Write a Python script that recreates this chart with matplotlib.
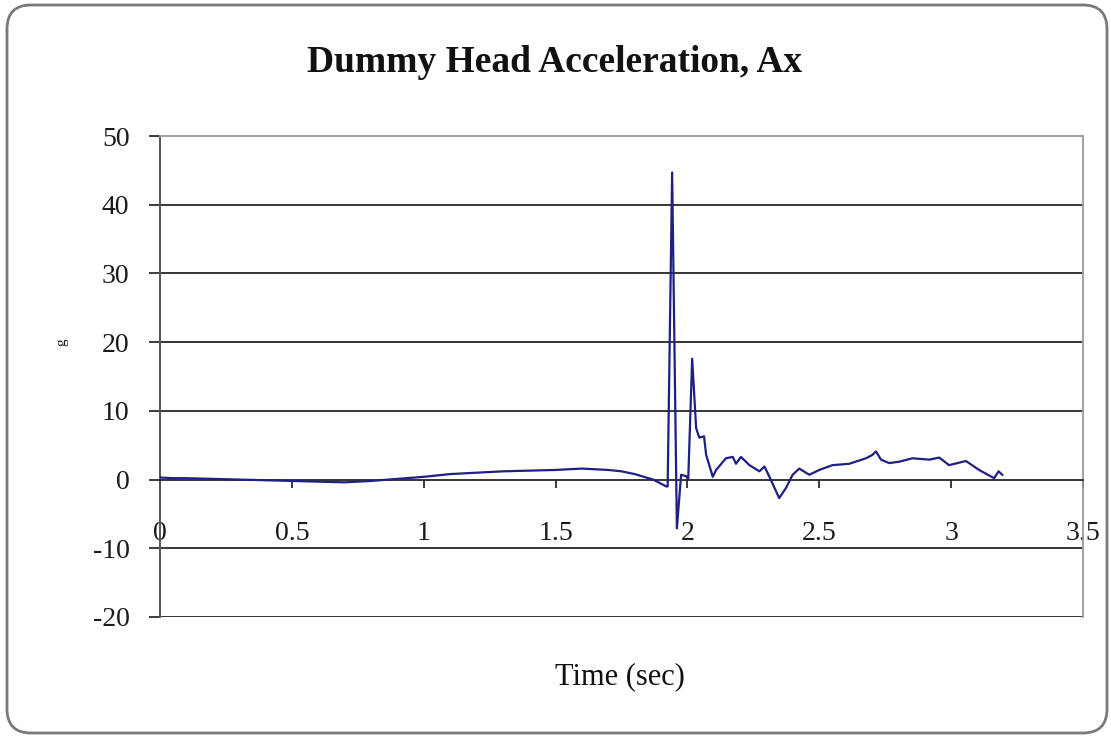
import matplotlib
matplotlib.use("Agg")
import matplotlib.pyplot as plt
from matplotlib.patches import FancyBboxPatch
from matplotlib.transforms import IdentityTransform

# Data
time_s = [0.00, 0.05, 0.10, 0.20, 0.30, 0.40, 0.50, 0.60, 0.70, 0.80, 0.90, 1.00,
          1.10, 1.20, 1.30, 1.40, 1.50, 1.60, 1.70, 1.75, 1.80, 1.87, 1.92, 1.925,
          1.942, 1.96, 1.976, 1.995, 2.003, 2.018, 2.033, 2.045, 2.063, 2.071, 2.096,
          2.109, 2.146, 2.172, 2.184, 2.203, 2.235, 2.273, 2.292, 2.311, 2.348, 2.374,
          2.399, 2.424, 2.462, 2.50, 2.55, 2.614, 2.677, 2.702, 2.715, 2.734, 2.765,
          2.803, 2.853, 2.917, 2.955, 2.992, 3.056, 3.106, 3.163, 3.18, 3.194]
accel_g = [0.3, 0.2, 0.2, 0.1, 0.0, -0.1, -0.2, -0.3, -0.4, -0.2, 0.1, 0.4,
           0.8, 1.0, 1.2, 1.3, 1.4, 1.6, 1.4, 1.2, 0.8, 0.0, -1.0, -1.0,
           44.7, -7.1, 0.7, 0.5, 0.0, 17.6, 7.5, 6.1, 6.3, 3.6, 0.4,
           1.4, 3.1, 3.3, 2.3, 3.3, 2.1, 1.2, 1.9, 0.4, -2.7, -1.2,
           0.7, 1.6, 0.7, 1.4, 2.1, 2.3, 3.1, 3.6, 4.1, 2.9, 2.4,
           2.6, 3.1, 2.9, 3.2, 2.1, 2.7, 1.4, 0.2, 1.2, 0.7]

title = "Dummy Head Acceleration, Ax"
x_label = "Time (sec)"
y_label = "g"
x_ticks = [0, 0.5, 1, 1.5, 2, 2.5, 3, 3.5]
x_tick_labels = ["0", "0.5", "1", "1.5", "2", "2.5", "3", "3.5"]
y_ticks = [-20, -10, 0, 10, 20, 30, 40, 50]
y_tick_labels = ["-20", "-10", "0", "10", "20", "30", "40", "50"]

plt.rcParams['font.family'] = ['Liberation Serif', 'DejaVu Serif']

W, H = 1111, 736
fig = plt.figure(figsize=(W / 100, H / 100), dpi=100)

# Rounded outer border (pixel coordinates, origin bottom-left)
border = FancyBboxPatch((7, 3), 1100, 728,
                        boxstyle="round,pad=0,rounding_size=24",
                        transform=IdentityTransform(), facecolor="none",
                        edgecolor="#7a7a7a", linewidth=2.0, clip_on=False)
fig.patches.append(border)

top_px, bot_px, left_px, right_px = 136, 617, 160, 1083
ax = fig.add_axes([left_px / W, 1 - bot_px / H,
                   (right_px - left_px) / W, (bot_px - top_px) / H])
ax.set_xlim(0, 3.5)
ax.set_ylim(-20, 50)

for y in y_ticks:
    if y not in (0, 50):
        ax.axhline(y, color="#262626", linewidth=1.3, zorder=1)

ax.plot(time_s, accel_g, color="#1f1f85", linewidth=1.6, zorder=3)

for s in ("top", "right"):
    ax.spines[s].set_color("#9a9a9a")
    ax.spines[s].set_linewidth(1.3)
ax.spines["left"].set_color("#555555")
ax.spines["left"].set_linewidth(1.4)
ax.spines["left"].set_position(("data", 0))
ax.spines["bottom"].set_position(("data", 0))
ax.spines["bottom"].set_color("#262626")
ax.spines["bottom"].set_linewidth(1.3)

ax.set_xticks(x_ticks)
ax.set_xticklabels(x_tick_labels)
ax.set_yticks(y_ticks)
ax.set_yticklabels(y_tick_labels)
ax.tick_params(axis="x", direction="out", length=6, width=1.2, pad=24,
               labelsize=20, colors="#1a1a1a")
ax.tick_params(axis="y", direction="out", length=8, width=1.2, pad=14,
               labelsize=20, colors="#1a1a1a")

fig.text(555 / W, 1 - 72 / H, title, ha="center", va="baseline",
         fontsize=27, fontweight="bold", color="#111111")
fig.text(620 / W, 1 - 684 / H, x_label, ha="center", va="baseline",
         fontsize=22, color="#111111")
fig.text(62 / W, 1 - 342 / H, y_label, ha="center", va="center",
         fontsize=11, rotation=90, color="#111111")

fig.savefig("out.png", dpi=100)
